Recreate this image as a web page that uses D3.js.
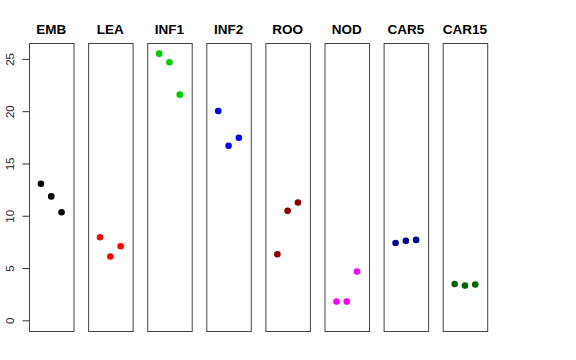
<!DOCTYPE html>
<html lang="en">
<head>
    <meta charset="UTF-8">
    <title>Panels</title>
    <script src="https://d3js.org/d3.v7.min.js"></script>
    <style>
        body { margin: 0; background: #fff; }
        svg { font-family: "Liberation Sans", Arial, sans-serif; }
        .title { font-size: 13.5px; font-weight: bold; fill: #000; }
        .tick text { font-size: 11.5px; fill: #222; }
        .box { fill: none; stroke: #444; stroke-width: 1px; }
    </style>
</head>
<body>
    <svg width="576" height="360"></svg>
    <script>
        const groups = ["EMB", "LEA", "INF1", "INF2", "ROO", "NOD", "CAR5", "CAR15"];
        const colors = ["#000000", "#ff0000", "#00cd00", "#0000ff", "#8b0000", "#ff00ff", "#00008b", "#006400"];
        const reps = [1, 2, 3];
        const EMB = [13.06, 11.85, 10.34];
        const LEA = [7.95, 6.1, 7.09];
        const INF1 = [25.5, 24.68, 21.58];
        const INF2 = [20.02, 16.7, 17.46];
        const ROO = [6.32, 10.47, 11.27];
        const NOD = [1.79, 1.79, 4.66];
        const CAR5 = [7.4, 7.6, 7.69];
        const CAR15 = [3.48, 3.32, 3.42];
        const values = [EMB, LEA, INF1, INF2, ROO, NOD, CAR5, CAR15];
        const yTicks = [0, 5, 10, 15, 20, 25];

        const svg = d3.select("svg");
        const panelTop = 43, panelBottom = 331;
        const firstLeft = 29, panelW = 44.5, step = 59.1;

        // ylim 0..max with R-style 4% padding
        const ymax = d3.max(values.flat());
        const pad = ymax * 0.04;
        const y = d3.scaleLinear().domain([-pad, ymax + pad]).range([panelBottom, panelTop]);
        const x = d3.scaleLinear().domain([-0.16, 4.16]).range([0, panelW]);

        groups.forEach((g, i) => {
            const panel = svg.append("g")
                .attr("transform", `translate(${firstLeft + i * step},0)`);

            panel.append("text")
                .attr("class", "title")
                .attr("x", panelW / 2)
                .attr("y", 34)
                .attr("text-anchor", "middle")
                .text(g);

            panel.selectAll("circle")
                .data(values[i])
                .enter().append("circle")
                .attr("cx", (d, j) => x(reps[j]))
                .attr("cy", d => y(d))
                .attr("r", 3.3)
                .attr("fill", colors[i]);

            panel.append("rect")
                .attr("class", "box")
                .attr("x", 0.5)
                .attr("y", panelTop + 0.5)
                .attr("width", panelW)
                .attr("height", panelBottom - panelTop);
        });

        // y axis on the first panel only
        const axis = svg.append("g")
            .attr("transform", `translate(${firstLeft + 0.5},0)`)
            .call(d3.axisLeft(y).tickValues(yTicks).tickSize(7).tickPadding(4));
        axis.select(".domain").remove();
        axis.selectAll(".tick line").attr("stroke", "#333");
        axis.selectAll(".tick text")
            .attr("x", null).attr("dy", null)
            .attr("text-anchor", "middle")
            .attr("transform", "translate(-15.5,0) rotate(-90)")
            .attr("y", 0);
    </script>
</body>
</html>
